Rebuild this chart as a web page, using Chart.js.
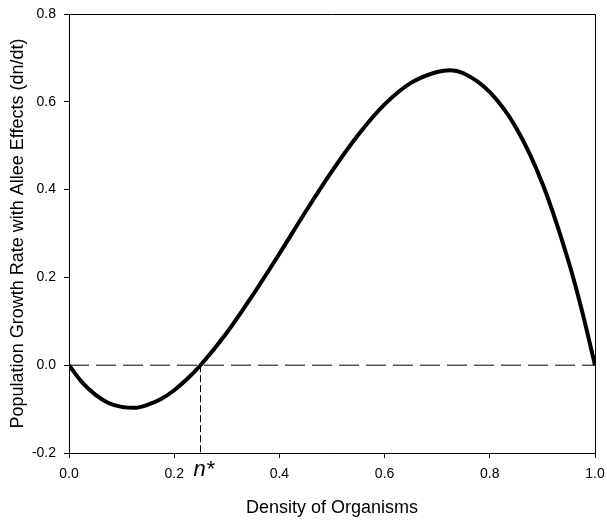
<!DOCTYPE html>
<html>
<head>
<meta charset="utf-8">
<script src="https://cdn.jsdelivr.net/npm/chart.js@4/dist/chart.umd.min.js"></script>
<style>
  html, body { margin: 0; padding: 0; background: #fff; }
  #wrap { width: 607px; height: 521px; }
</style>
</head>
<body>
<div id="wrap"><canvas id="chart" width="607" height="521"></canvas></div>
<script>
// density values (x) and growth rate (y)
const density = [0, 0.025, 0.05, 0.075, 0.1, 0.125, 0.15, 0.175, 0.2, 0.225, 0.25,
  0.3, 0.35, 0.4, 0.45, 0.5, 0.55, 0.6, 0.65, 0.7, 0.725, 0.75, 0.8, 0.85, 0.9, 0.95, 0.975, 1.0];
const growthRate = [0, -0.039, -0.067, -0.086, -0.095, -0.097, -0.090, -0.077, -0.057, -0.031, 0,
  0.074, 0.161, 0.254, 0.350, 0.442, 0.525, 0.594, 0.643, 0.668, 0.672, 0.665, 0.622, 0.541, 0.414, 0.235, 0.125, 0];

// dashed reference lines
const zeroLineX = [0, 1];
const zeroLineY = [0, 0];
const nStarX = [0.25, 0.25];
const nStarY = [0, -0.2];
const nStar = 0.25;

const xTicks = [0, 0.2, 0.4, 0.6, 0.8, 1.0];
const yTicks = [-0.2, 0, 0.2, 0.4, 0.6, 0.8];

const FONT = "'Liberation Sans', Arial, Helvetica, sans-serif";

function pts(xs, ys) {
  return xs.map((x, i) => ({ x: x, y: ys[i] }));
}

// box around the plot area + the n* label
const framePlugin = {
  id: "frame",
  afterDraw(chart) {
    const { ctx, chartArea: a, scales } = chart;
    ctx.save();
    ctx.strokeStyle = "#000";
    ctx.lineWidth = 1;
    ctx.beginPath();
    ctx.moveTo(a.left, a.top + 0.5);
    ctx.lineTo(a.right + 0.5, a.top + 0.5);
    ctx.lineTo(a.right + 0.5, a.bottom + 5);
    ctx.stroke();

    const px = scales.x.getPixelForValue(nStar);
    ctx.fillStyle = "#000";
    ctx.font = "italic 22px " + FONT;
    ctx.textAlign = "left";
    ctx.textBaseline = "alphabetic";
    ctx.fillText("n*", px - 7, a.bottom + 23);
    ctx.restore();
  },
};

const ctx = document.getElementById("chart").getContext("2d");
new Chart(ctx, {
  type: "line",
  data: {
    datasets: [
      {
        data: pts(density, growthRate),
        borderColor: "#000",
        borderWidth: 4,
        pointRadius: 0,
        cubicInterpolationMode: "monotone",
        order: 0,
      },
      {
        data: pts(zeroLineX, zeroLineY),
        borderColor: "#000",
        borderWidth: 1,
        borderDash: [20, 7],
        pointRadius: 0,
        order: 1,
      },
      {
        data: pts(nStarX, nStarY),
        borderColor: "#000",
        borderWidth: 1,
        borderDash: [7, 3],
        pointRadius: 0,
        order: 1,
      },
    ],
  },
  options: {
    responsive: false,
    animation: false,
    layout: { padding: { top: 14, right: 12, left: 0, bottom: 0 } },
    plugins: { legend: { display: false }, tooltip: { enabled: false } },
    scales: {
      x: {
        type: "linear",
        min: 0,
        max: 1,
        afterBuildTicks: (s) => { s.ticks = xTicks.map((v) => ({ value: v })); },
        afterFit: (s) => { s.height = 68; s.paddingLeft = 0; s.paddingRight = 0; },
        ticks: {
          color: "#000",
          font: { family: FONT, size: 14 },
          padding: 8,
          maxRotation: 0,
          callback: (v) => v.toFixed(1),
        },
        grid: { drawOnChartArea: false, tickLength: 5, color: "#000" },
        border: { color: "#000", width: 1 },
        title: {
          display: true,
          text: "Density of Organisms",
          color: "#000",
          font: { family: FONT, size: 18 },
          padding: { top: 0, bottom: 2 },
        },
      },
      y: {
        type: "linear",
        min: -0.2,
        max: 0.8,
        afterBuildTicks: (s) => { s.ticks = yTicks.map((v) => ({ value: v })); },
        afterFit: (s) => { s.width = 69; s.paddingTop = 0; s.paddingBottom = 0; },
        ticks: {
          color: "#000",
          font: { family: FONT, size: 14 },
          padding: 8,
          callback: (v) => v.toFixed(1),
        },
        grid: { drawOnChartArea: false, tickLength: 5, color: "#000" },
        border: { color: "#000", width: 1 },
        title: {
          display: true,
          text: "Population Growth Rate with Allee Effects (dn/dt)",
          color: "#000",
          font: { family: FONT, size: 18 },
          padding: { top: 7, bottom: 0 },
        },
      },
    },
  },
  plugins: [framePlugin],
});
</script>
</body>
</html>
